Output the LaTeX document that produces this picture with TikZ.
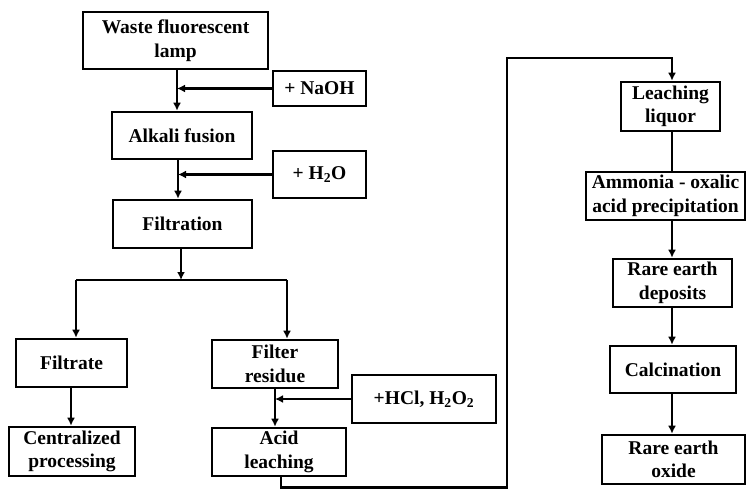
\documentclass[tikz,border=0pt]{standalone}
\usepackage{fontspec}
\setmainfont{Liberation Serif}
\usetikzlibrary{arrows.meta}
\begin{document}
\begin{tikzpicture}[x=1pt,y=-1pt,
  box/.style={draw,line width=2.6pt,rectangle,align=center,inner sep=1pt,
    font=\fontsize{19.5}{23.5}\selectfont\bfseries},
  link/.style={line width=2.6pt},
  arr/.style={link,-{Latex[length=8pt,width=8pt]}}]
\useasboundingbox (0,0) rectangle (746,489);
% process boxes
\node[box,minimum width=185,minimum height=57] (lamp) at (175.5,40.5) {Waste fluorescent\\lamp};
\node[box,minimum width=93,minimum height=35] (naoh) at (319.5,88.5) {+ NaOH};
\node[box,minimum width=140,minimum height=47] (alkali) at (182,135.5) {Alkali fusion};
\node[box,minimum width=93,minimum height=47] (h2o) at (319.5,174.5) {+ H\textsubscript{2}O};
\node[box,minimum width=139,minimum height=48] (filt) at (182.5,224) {Filtration};
\node[box,minimum width=111,minimum height=48] (filtrate) at (71.5,363) {Filtrate};
\node[box,minimum width=126,minimum height=48] (residue) at (275,364) {Filter\\residue};
\node[box,minimum width=144,minimum height=48] (hcl) at (424,399) {+HCl, H\textsubscript{2}O\textsubscript{2}};
\node[box,minimum width=126,minimum height=49] (central) at (72,451.5) {Centralized\\processing};
\node[box,minimum width=134,minimum height=48] (acid) at (279,452) {Acid\\leaching};
\node[box,minimum width=99,minimum height=49] (liquor) at (670.5,106.5) {Leaching\\liquor};
\node[box,minimum width=159,minimum height=48] (ammonia) at (665.5,196) {Ammonia - oxalic\\acid precipitation};
\node[box,minimum width=119,minimum height=48] (deposits) at (672.5,283) {Rare earth\\deposits};
\node[box,minimum width=126,minimum height=47] (calc) at (673,369.5) {Calcination};
\node[box,minimum width=143,minimum height=49] (oxide) at (673.5,459.5) {Rare earth\\oxide};
% line positions
\coordinate (c1) at (177,0);
\coordinate (c2) at (178,0);
\coordinate (c3) at (181,280);
\coordinate (cl) at (76,280);
\coordinate (cr) at (287,280);
\coordinate (c4) at (71,0);
\coordinate (c5) at (275,0);
\coordinate (c6) at (281,487.5);
\coordinate (c7) at (507,487.5);
\coordinate (c8) at (507,58);
\coordinate (c9) at (672,58);
% left branch
\draw[arr] (lamp.south -| c1) -- (alkali.north -| c1);
\draw[arr] (naoh.west) -- (naoh.west -| c1);
\draw[arr] (alkali.south -| c2) -- (filt.north -| c2);
\draw[arr] (h2o.west) -- (h2o.west -| c2);
\draw[arr] (filt.south -| c3) -- (c3);
\draw[link] (cl) -- (cr);
\draw[arr] (cl) -- (filtrate.north -| cl);
\draw[arr] (cr) -- (residue.north -| cr);
\draw[arr] (filtrate.south -| c4) -- (central.north -| c4);
\draw[arr] (residue.south -| c5) -- (acid.north -| c5);
\draw[arr] (hcl.west) -- (hcl.west -| c5);
% transfer of the leachate
\draw[arr] (acid.south -| c6) -- (c6) -- (c7) -- (c8) -- (c9) -- (liquor.north -| c9);
% right branch
\draw[link] (liquor.south -| c9) -- (ammonia.north -| c9);
\draw[arr] (ammonia.south -| c9) -- (deposits.north -| c9);
\draw[arr] (deposits.south -| c9) -- (calc.north -| c9);
\draw[arr] (calc.south -| c9) -- (oxide.north -| c9);
\end{tikzpicture}
\end{document}
